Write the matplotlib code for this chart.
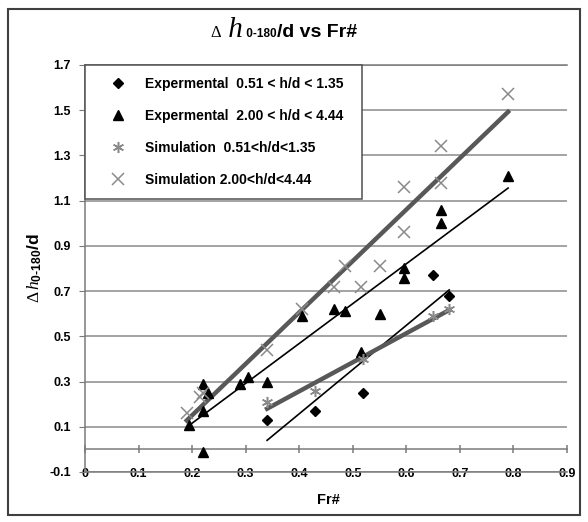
import numpy as np
import matplotlib
matplotlib.use("Agg")
import matplotlib.pyplot as plt
from matplotlib.patches import Rectangle
from matplotlib.offsetbox import TextArea, HPacker, AnchoredOffsetbox

plt.rcParams["font.family"] = ["Liberation Sans", "DejaVu Sans"]
plt.rcParams["mathtext.fontset"] = "custom"
plt.rcParams["mathtext.rm"] = "Liberation Serif"
plt.rcParams["mathtext.it"] = "Liberation Serif:italic"
plt.rcParams["mathtext.sf"] = "Liberation Sans:bold"

# data
exp1_x = [0.34, 0.43, 0.52, 0.65, 0.68]
exp1_y = [0.13, 0.17, 0.25, 0.77, 0.68]

exp2_x = [0.195, 0.22, 0.22, 0.22, 0.23, 0.29, 0.305, 0.34, 0.405, 0.465,
          0.485, 0.515, 0.55, 0.595, 0.595, 0.665, 0.665, 0.79]
exp2_y = [0.11, -0.01, 0.17, 0.29, 0.25, 0.29, 0.32, 0.30, 0.59, 0.62,
          0.61, 0.43, 0.60, 0.80, 0.76, 1.06, 1.00, 1.21]

sim1_x = [0.34, 0.43, 0.52, 0.65, 0.68]
sim1_y = [0.21, 0.26, 0.40, 0.59, 0.62]

sim2_x = [0.19, 0.215, 0.22, 0.34, 0.405, 0.465, 0.485, 0.515, 0.55, 0.595,
          0.595, 0.665, 0.665, 0.79]
sim2_y = [0.16, 0.23, 0.25, 0.44, 0.62, 0.72, 0.81, 0.72, 0.81, 0.96,
          1.16, 1.18, 1.34, 1.57]

labels = ["Expermental  0.51 < h/d < 1.35",
          "Expermental  2.00 < h/d < 4.44",
          "Simulation  0.51<h/d<1.35",
          "Simulation 2.00<h/d<4.44"]

x_ticks = np.arange(0, 0.91, 0.1)
y_ticks = np.arange(-0.1, 1.71, 0.2)

W, H = 588, 522
fig = plt.figure(figsize=(W / 100, H / 100), dpi=100)
ax = fig.add_axes([85 / W, 1 - 472 / H, 482 / W, 407 / H])
ax.set_xlim(0, 0.9)
ax.set_ylim(-0.1, 1.7)

ax.yaxis.grid(True, color="#8a8a8a", lw=1.1, zorder=0)
ax.set_axisbelow(True)
ax.spines["right"].set_visible(False)
for s in ["left", "bottom", "top"]:
    ax.spines[s].set_color("#7a7a7a")
    ax.spines[s].set_linewidth(1.1)


def trend(xs, ys, **kw):
    k, b = np.polyfit(xs, ys, 1)
    xx = np.array([min(xs), max(xs)])
    ax.plot(xx, k * xx + b, **kw)


trend(exp1_x, exp1_y, color="black", lw=1.2, zorder=3)
trend(exp2_x, exp2_y, color="black", lw=1.2, zorder=3)
trend(sim1_x, sim1_y, color="#585858", lw=3.2, zorder=3)
trend(sim2_x, sim2_y, color="#585858", lw=3.2, zorder=3)

ax.plot(exp1_x, exp1_y, ls="none", marker="D", ms=5, color="black",
        label=labels[0], zorder=4)
ax.plot(exp2_x, exp2_y, ls="none", marker="^", ms=7.5, color="black",
        label=labels[1], zorder=4)
ax.plot(sim1_x, sim1_y, ls="none", marker=(6, 2, 0), ms=8, mew=1.1,
        color="#8a8a8a", label=labels[2], zorder=4)
ax.plot(sim2_x, sim2_y, ls="none", marker="x", ms=8, mew=1.1,
        color="#8a8a8a", label=labels[3], zorder=4)

# x axis crossing at 0 with its tick marks, labels stay at the bottom
sec = ax.secondary_xaxis(0.1 / 1.8)
sec.set_xticks(x_ticks)
sec.tick_params(labelbottom=False, direction="inout", length=6,
                color="#7a7a7a", width=1.1)
sec.spines["bottom"].set_color("#7a7a7a")
sec.spines["bottom"].set_linewidth(1.1)

ax.set_xticks(x_ticks)
ax.set_xticklabels(["0" if v == 0 else f"{v:.1f}" for v in x_ticks],
                   fontsize=9, fontweight="bold")
ax.tick_params(axis="x", length=0, pad=-3)
ax.set_yticks(y_ticks)
ax.set_yticklabels([f"{v:.1f}" for v in y_ticks], fontsize=9,
                   fontweight="bold")
ax.tick_params(axis="y", direction="out", length=4, color="#7a7a7a", pad=6)

leg = ax.legend(loc="upper left", bbox_to_anchor=(0, 1, 0.575, 0),
                mode="expand", borderaxespad=0,
                prop={"weight": "bold", "size": 10}, frameon=True,
                fancybox=False, edgecolor="#505050", framealpha=1,
                borderpad=0.85, labelspacing=1.3, handlelength=3.0,
                handletextpad=0.45)
leg.get_frame().set_linewidth(1.1)
leg.set_zorder(5)

# title: mixed fonts on one baseline
parts = [
    TextArea("\u0394", textprops=dict(family="Liberation Serif", size=12)),
    TextArea(" h", textprops=dict(family="Liberation Serif", style="italic",
                                  size=21)),
    TextArea(" 0-180", textprops=dict(family="Liberation Sans",
                                      weight="bold", size=8.5)),
    TextArea("/d vs Fr#", textprops=dict(family="Liberation Sans",
                                         weight="bold", size=14)),
]
title_box = HPacker(children=parts, align="baseline", pad=0, sep=0)
anch = AnchoredOffsetbox(loc="center", child=title_box,
                         bbox_to_anchor=(284 / W, 1 - 30 / H),
                         bbox_transform=fig.transFigure, frameon=False,
                         pad=0, borderpad=0)
fig.add_artist(anch)

ylab = "$\\Delta\\,h_{\\mathsf{0\u2010180}}$/d"
fig.text(35 / W, 1 - 268 / H, ylab, rotation=90, ha="center", va="center",
         fontsize=12.5, fontweight="bold")
fig.text(328 / W, 1 - 500 / H, "Fr#", ha="center", va="center",
         fontsize=10.5, fontweight="bold")

fig.patches.append(Rectangle((8 / W, 7 / H), 572 / W, 506 / H,
                             transform=fig.transFigure, fill=False,
                             ec="#404040", lw=1.5))

fig.savefig("out.png", dpi=100)
